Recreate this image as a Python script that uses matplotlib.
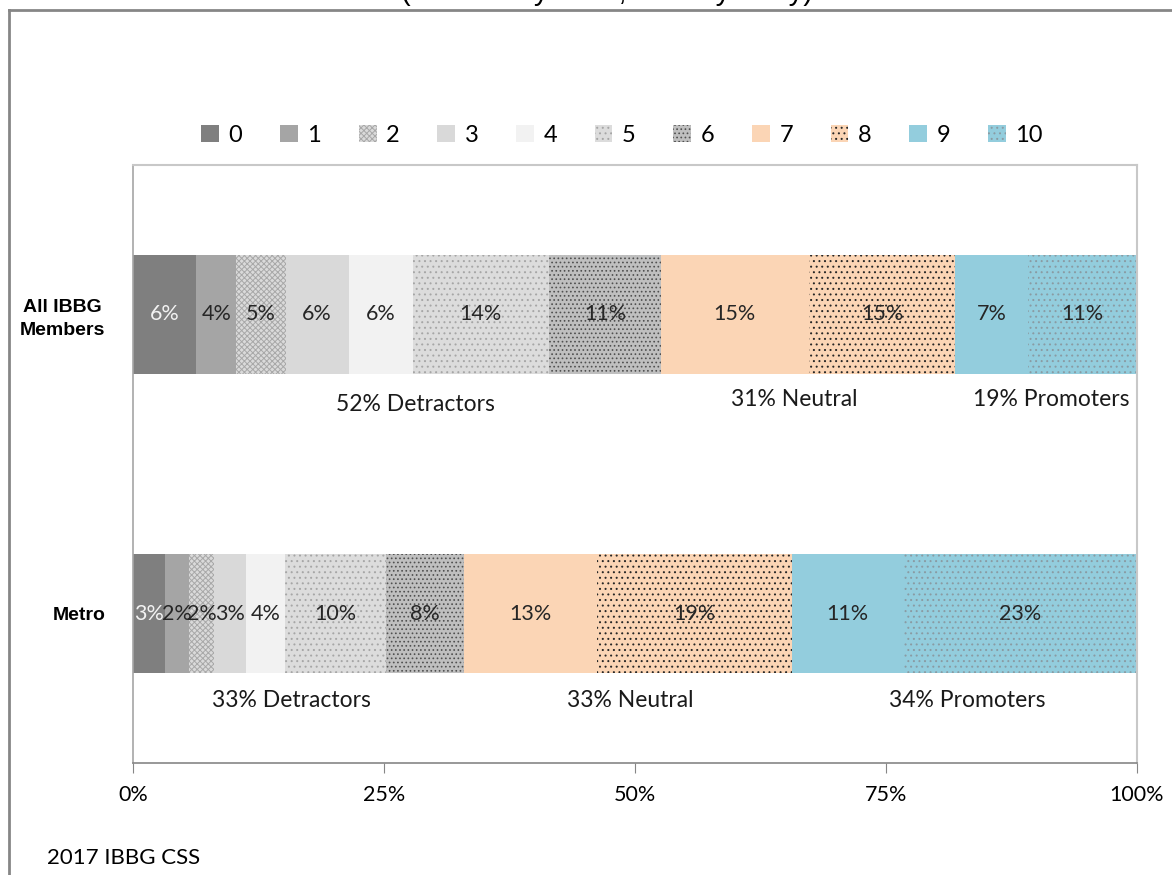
import matplotlib

matplotlib.use("Agg")
import matplotlib.pyplot as plt
from matplotlib.lines import Line2D
from matplotlib.ticker import FuncFormatter

# Likelihood-to-recommend scores, 0 (not likely at all) .. 10 (very likely)
scores = ["0", "1", "2", "3", "4", "5", "6", "7", "8", "9", "10"]
groups = ["All IBBG\nMembers", "Metro"]

all_members = [6.3, 4.0, 4.9, 6.3, 6.4, 13.5, 11.2, 14.7, 14.6, 7.2, 10.9]
metro = [3.2, 2.4, 2.49, 3.2, 3.8, 10.1, 7.8, 13.2, 19.4, 11.2, 23.2]

# NPS bucket captions under each bar: (text, x centre in %)
all_members_notes = [("52% Detractors", 28.1), ("31% Neutral", 65.9), ("19% Promoters", 91.5)]
metro_notes = [("33% Detractors", 15.8), ("33% Neutral", 49.5), ("34% Promoters", 83.1)]

x_ticks = [0, 25, 50, 75, 100]

face = ["#7f7f7f", "#a5a5a5", "#dadada", "#d9d9d9", "#f2f2f2", "#dcdcdc",
        "#bfbfbf", "#fbd5b5", "#fbd5b5", "#93cddd", "#93cddd"]
hatch_col = ["#7f7f7f", "#a5a5a5", "#a8a8a8", "#d9d9d9", "#f2f2f2", "#a6a6a6",
             "#505050", "#fbd5b5", "#262626", "#93cddd", "#8a9ba3"]
hatches = [None, None, "xxxxxx", None, None, "...", "....", None, "...", None, "..."]
label_col = ["#f2f2f2"] + ["#262626"] * 10

LABEL_FONT = ["Lato", "DejaVu Sans"]
plt.rcParams["hatch.linewidth"] = 0.7

fig = plt.figure(figsize=(11.72, 8.75), dpi=100)
ax = fig.add_axes([133 / 1172, 1 - 763 / 875, (1137 - 133) / 1172, (763 - 165) / 875])

rows = [all_members, metro]
ypos = list(range(len(groups)))
for i, score in enumerate(scores):
    widths = [row[i] for row in rows]
    lefts = [sum(row[:i]) for row in rows]
    bars = ax.barh(ypos, widths, left=lefts, height=0.4, color=face[i],
                   edgecolor=hatch_col[i], linewidth=0, hatch=hatches[i], label=score)
    ax.bar_label(bars, labels=[f"{w:.0f}%" for w in widths], label_type="center",
                 color=label_col[i], fontsize=15.5, family=LABEL_FONT)

for y, notes in zip(ypos, [all_members_notes, metro_notes]):
    for k, (text, xc) in enumerate(notes):
        dy = 0.30 if (y == 0 and k == 0) else 0.285
        if y == 1:
            dy = 0.29
        ax.text(xc, y + dy, text, ha="center", va="center", fontsize=16.5,
                family=LABEL_FONT, color="#1a1a1a")

ax.set_xlim(0, 100)
ax.set_ylim(1.5, -0.5)
ax.set_yticks(ypos)
ax.set_yticklabels(groups, fontsize=14, fontweight="bold", family="Liberation Sans",
                   linespacing=1.45, multialignment="center")
ax.tick_params(axis="y", length=0, pad=20)
ax.set_xticks(x_ticks)
ax.xaxis.set_major_formatter(FuncFormatter(lambda v, _: f"{v:.0f}%"))
ax.tick_params(axis="x", direction="out", length=7, color="#868686", pad=9, labelsize=15.5)
for lab in ax.get_xticklabels():
    lab.set_family(LABEL_FONT)

for side in ("top", "right"):
    ax.spines[side].set_color("#c8c8c8")
    ax.spines[side].set_linewidth(1.5)
ax.spines["left"].set_color("#a6a6a6")
ax.spines["bottom"].set_color("#868686")
ax.spines["left"].set_linewidth(1.2)
ax.spines["bottom"].set_linewidth(1.2)

fig.legend(loc="center", bbox_to_anchor=(622 / 1172, 1 - 135 / 875), ncols=11,
           frameon=False, handlelength=0.75, handleheight=0.75, handletextpad=0.4,
           columnspacing=1.6, prop={"family": LABEL_FONT, "size": 17})

# chart subtitle, partly clipped by the top of the canvas
fig.text(607 / 1172, 1 - 0.5 / 875, "(0 not likely at all, 10 very likely)", ha="center",
         va="baseline", fontsize=21, family="Liberation Sans", color="#000000")

fig.text(47 / 1172, 1 - 858 / 875, "2017 IBBG CSS", ha="left", va="center", fontsize=16,
         family=LABEL_FONT, color="#000000")

# chart-area frame (only the top and left edges fall inside the canvas)
fig.add_artist(Line2D([9 / 1172, 9 / 1172], [0, 1 - 10 / 875], color="#868686", lw=2,
                      transform=fig.transFigure))
fig.add_artist(Line2D([9 / 1172, 1], [1 - 10 / 875, 1 - 10 / 875], color="#868686", lw=2,
                      transform=fig.transFigure))

fig.savefig("out.png", dpi=100)
